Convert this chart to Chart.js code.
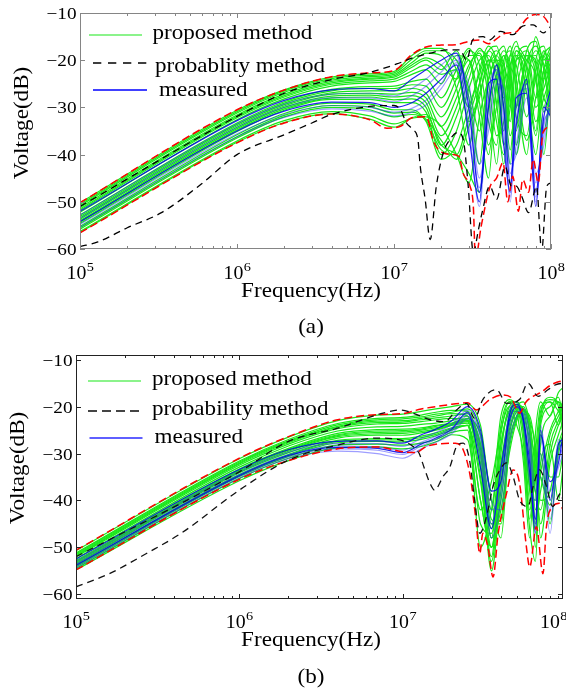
<!DOCTYPE html>
<html>
<head>
<meta charset="utf-8">
<script src="https://cdn.jsdelivr.net/npm/chart.js@4.4.1/dist/chart.umd.min.js"></script>
<style>
  body { margin: 0; background: #fff; }
  #wrapA { position: absolute; left: 0; top: 0; width: 566px; height: 340px; }
  #wrapB { position: absolute; left: 0; top: 340px; width: 566px; height: 349px; }
</style>
</head>
<body>
<div id="wrapA"><canvas id="chartA" width="566" height="340"></canvas></div>
<div id="wrapB"><canvas id="chartB" width="566" height="349"></canvas></div>
<script>
// ---------- data (a) ----------
const freqA = [1e5, 1e6, 2e6, 4e6, 7e6, 1e7, 1.3e7, 1.6e7, 2e7, 2.5e7, 3e7, 3.5e7, 4e7, 4.5e7, 5e7, 5.5e7, 6e7, 7e7, 8e7, 9e7, 1e8];

const greenA = [
  [-50.2, -30.6, -26.3, -23.6, -22.9, -22.4, -19, -17.5, -17.5, -22, -30, -22, -17, -20, -28, -19, -16, -25, -15, -20, -17],
  [-50.5, -30.9, -26.5, -23.9, -23.2, -22.7, -19.8, -18, -18, -20, -26, -35, -24, -19, -17, -23, -30, -18, -16, -24, -18],
  [-50.8, -31.2, -26.8, -24.2, -23.5, -23, -20.5, -18.5, -19, -26, -38, -25, -18, -17, -24, -33, -20, -17, -28, -22, -19],
  [-51.2, -31.6, -27.2, -24.5, -23.8, -23.3, -21, -19.5, -21, -24, -20, -29, -40, -26, -19, -25, -38, -21, -17, -21, -30],
  [-51.5, -31.9, -27.5, -24.8, -24, -23.6, -21.5, -20, -22, -18, -28, -42, -22, -18, -21, -30, -18, -22, -35, -18, -24],
  [-51.8, -32.2, -27.8, -25.1, -24.4, -24, -22.3, -21, -23, -22, -33, -28, -20, -23, -35, -22, -17, -20, -24, -40, -22],
  [-52.2, -32.6, -28.2, -25.5, -24.8, -24.5, -23, -22, -25, -19, -20, -32, -45, -24, -18, -22, -35, -19, -20, -30, -20],
  [-52.8, -33.3, -28.8, -26.2, -25.6, -25.5, -24.5, -24, -28, -22, -17.5, -24, -38, -30, -20, -18, -26, -40, -20, -17, -26],
  [-53.1, -33.6, -29.1, -26.5, -26, -26, -25.2, -25.5, -30, -24, -18, -21, -33, -38, -22, -17, -24, -37, -28, -19, -17],
  [-53.4, -33.9, -29.4, -26.9, -26.5, -26.5, -26, -27, -32, -26, -19, -19, -28, -42, -25, -19, -21, -32, -24, -18, -22],
  [-53.7, -34.2, -29.7, -27.2, -27, -27.2, -26.8, -28, -34, -28, -21, -18.5, -25, -36, -33, -21, -19, -27, -40, -24, -19],
  [-54, -34.5, -30, -27.6, -27.4, -27.8, -27.5, -29, -36, -30, -22, -17.5, -22, -33, -40, -24, -18, -24, -36, -22, -18],
  [-54.3, -34.8, -30.3, -28, -27.8, -28.4, -28.2, -30, -38, -32, -24, -18, -20, -29, -42, -26, -19, -21, -33, -28, -23],
  [-54.6, -35.1, -30.6, -28.3, -28.3, -29, -29, -31, -40, -35, -26, -20, -19, -25, -38, -30, -20, -19, -30, -26, -21],
  [-55.2, -35.8, -31.3, -29.1, -29.3, -30.5, -30.5, -33, -41, -38, -30, -23, -18, -21, -30, -42, -24, -18, -23, -35, -25],
  [-55.5, -36.2, -31.7, -29.6, -29.9, -31.2, -31, -32.8, -39, -40, -32, -25, -20, -20, -27, -39, -27, -19, -21, -31, -27],
  [-55.8, -36.5, -32, -30, -30.5, -32, -31.5, -32.5, -37, -41, -34, -27, -21, -19, -24, -36, -30, -20, -19, -28, -30],
  [-56.3, -37.1, -32.8, -30.9, -31.8, -33.5, -32.3, -32, -34, -40, -46, -32, -24, -20, -21, -28, -40, -24, -18, -22, -33],
  [-56.5, -37.4, -33.2, -31.3, -32.5, -34.2, -32.2, -31.5, -38, -40, -44, -48, -30, -23, -19, -23, -32, -36, -22, -19, -28]
];

const blueA = [
  [-52, -32.8, -28.5, -26.3, -26, -26.5, -24, -22, -20, -18.5, -30, -48, -30, -21, -30, -46, -34, -24, -48, -32, -26],
  [-52.8, -33.5, -29.3, -27.2, -27, -27.6, -26, -24, -21, -19, -34, -51, -27, -22, -35, -49, -30, -26, -50, -34, -30],
  [-53.5, -34.2, -30, -28, -28, -28.8, -27.5, -25.5, -22.5, -20, -28, -45, -33, -23, -27, -44, -38, -25, -46, -36, -28],
  [-54.2, -35, -30.8, -28.9, -29, -30, -29, -27, -24, -21, -36, -50, -25, -24, -38, -48, -28, -27, -51, -30, -32],
  [-54.8, -35.6, -31.5, -29.6, -30, -31, -30.2, -28.5, -25, -20.5, -31, -47, -29, -22, -32, -50, -33, -25, -44, -38, -27],
  [-55.4, -36.2, -32.1, -30.3, -30.8, -31.8, -31, -29.5, -26, -22, -25, -42, -35, -25, -26, -42, -40, -28, -49, -33, -31]
];

const redUpFreqA = [1e5, 1e6, 2e6, 4e6, 7e6, 1e7, 1.3e7, 1.6e7, 2e7, 2.5e7, 3e7, 3.5e7, 4e7, 4.5e7, 5e7, 5.5e7, 6e7, 7e7, 8e7, 9e7, 1e8];
const redUpA = [-50.2, -30.5, -26.3, -23.5, -22.7, -22.2, -18.8, -17.2, -16.8, -16.7, -16, -15.7, -16.5, -15.5, -14.4, -14.2, -14, -11.2, -10.3, -10.8, -13];

const redLowFreqA = [1e5, 1e6, 2e6, 4e6, 7e6, 9e6, 1.1e7, 1.3e7, 1.6e7, 1.8e7, 2.05e7, 2.4e7, 2.6e7, 2.75e7, 3.05e7, 3.2e7, 3.3e7, 3.6e7, 4.1e7, 4.5e7, 4.95e7, 5.3e7, 5.7e7, 6.2e7, 6.6e7, 7.2e7, 7.7e7, 8.3e7, 8.9e7, 1e8];
const redLowA = [-56.6, -37.5, -33.3, -31.4, -32.6, -34.4, -34, -32.2, -32, -37.5, -39.6, -40, -40.4, -43.9, -46.7, -50.9, -62, -55, -46.7, -45, -41.7, -50, -44.6, -52, -45.3, -48, -41, -46, -35.3, -34];

const blackUpFreqA = [1e5, 1e6, 2e6, 4e6, 7e6, 1.04e7, 1.32e7, 1.7e7, 2.17e7, 2.63e7, 2.9e7, 3.17e7, 3.69e7, 4.07e7, 4.74e7, 5.7e7, 6.6e7, 7.7e7, 8.9e7, 1e8];
const blackUpA = [-51, -31.9, -27, -24.1, -22.6, -20.8, -19.5, -18.5, -17.8, -17.8, -20, -15.7, -15, -15.7, -13.9, -14.6, -12.8, -12.5, -14.2, -12.8];

const blackLowFreqA = [1e5, 1.3e5, 2e5, 3.3e5, 5.9e5, 1e6, 2e6, 3e6, 4e6, 7e6, 1e7, 1.1e7, 1.2e7, 1.32e7, 1.42e7, 1.47e7, 1.58e7, 1.7e7, 1.86e7, 2.06e7, 2.27e7, 2.56e7, 2.76e7, 2.97e7, 3.2e7, 3.45e7, 3.64e7, 4.07e7, 4.5e7, 5.1e7, 5.6e7, 6e7, 6.5e7, 7.2e7, 8.1e7, 8.5e7, 8.7e7, 9.4e7, 1e8];
const blackLowA = [-59.5, -58.5, -55.5, -52.3, -46.3, -40, -35.8, -33.3, -31.5, -29.8, -29.6, -30.5, -33.3, -34.7, -36.8, -42.5, -49.5, -58, -46.7, -39.6, -36.8, -35.3, -36.8, -46.7, -60.8, -55.9, -52.3, -46.7, -49.5, -42.5, -46.7, -46.7, -48.8, -52.3, -46.7, -56.6, -60.8, -46.7, -46];

// ---------- data (b) ----------
const freqB = [1e5, 1e6, 2e6, 4e6, 7e6, 1e7, 1.3e7, 1.6e7, 2e7, 2.5e7, 3e7, 3.5e7, 4e7, 4.5e7, 5e7, 5.5e7, 6e7, 6.5e7, 7e7, 8e7, 9e7, 9.6e7];

const greenB = [
  [-50.7, -31.1, -26.5, -23, -21.8, -21.6, -21, -20.5, -20, -19.5, -24, -38, -22, -18.5, -21, -32, -48, -26, -19, -22, -17, -16],
  [-51.2, -31.6, -27, -23.6, -22.5, -22.3, -21.8, -21.2, -20.8, -21, -30, -46, -26, -19, -20, -28, -44, -30, -20, -19, -24, -18],
  [-51.4, -31.8, -27.3, -23.9, -22.8, -22.6, -22.2, -21.6, -21.2, -20.5, -26, -42, -24, -19, -19, -26, -42, -33, -21, -18.5, -19, -24],
  [-51.6, -32, -27.5, -24.2, -23.1, -23, -22.5, -22, -21.5, -22, -35, -52, -30, -20, -19, -24, -40, -36, -22, -18, -20, -26],
  [-51.8, -32.2, -27.7, -24.4, -23.4, -23.3, -22.8, -22.4, -22, -21.5, -29, -48, -28, -21, -19, -23, -37, -40, -23, -19, -21, -23],
  [-52, -32.5, -28, -24.7, -23.7, -23.6, -23.2, -22.8, -22.5, -23, -40, -50, -34, -22, -19.5, -22, -35, -45, -24, -20, -18, -22],
  [-52.4, -32.9, -28.4, -25.2, -24.3, -24.2, -23.8, -23.5, -23, -22, -32, -55, -38, -24, -20, -21, -30, -50, -28, -22, -19, -20],
  [-52.8, -33.3, -28.9, -25.7, -24.9, -24.8, -24.5, -24, -23.5, -22.5, -28, -45, -44, -26, -21, -20, -26, -42, -34, -25, -21, -19],
  [-53, -33.5, -29.1, -26, -25.2, -25.1, -24.8, -24.2, -23.6, -22.8, -33, -50, -40, -27, -22, -21, -25, -44, -38, -26, -22, -20],
  [-53.2, -33.7, -29.3, -26.2, -25.5, -25.4, -25, -24.5, -23.8, -23, -26, -40, -48, -28, -22, -20.5, -24, -38, -42, -28, -23, -21],
  [-53.4, -33.9, -29.5, -26.4, -25.8, -25.7, -25.3, -24.8, -23.9, -23.2, -28, -44, -45, -29, -22.5, -20.8, -23, -34, -45, -30, -24, -22],
  [-53.6, -34.1, -29.8, -26.7, -26.1, -26.1, -25.6, -25, -24, -23.5, -30, -48, -42, -30, -23, -21, -22, -30, -48, -32, -26, -23],
  [-53.9, -34.5, -30.2, -27.2, -26.8, -26.8, -26.3, -25.6, -24.5, -24, -36, -53, -36, -25, -20, -19, -23, -28, -40, -38, -28, -25],
  [-54, -34.7, -30.4, -27.4, -27.1, -27.1, -26.6, -25.9, -24.7, -24, -40, -50, -34, -23, -19.5, -20.5, -25, -31, -35, -41, -29, -26],
  [-54.2, -34.9, -30.6, -27.7, -27.4, -27.5, -27, -26.2, -25, -24, -45, -47, -32, -22, -19, -22, -27, -34, -30, -45, -30, -27],
  [-54.5, -35.3, -31, -28.2, -28, -28.2, -27.8, -27, -25.5, -25, -50, -42, -28, -21, -21, -25, -38, -46, -26, -35, -35, -30],
  [-54.8, -35.8, -31.5, -28.8, -28.6, -29, -28.5, -27.5, -26, -27, -42, -36, -25, -20, -24, -30, -46, -53, -32, -28, -40, -33]
];

const blueB = [
  [-52.5, -33.4, -29.2, -27.4, -27.3, -27.8, -26, -24.8, -23, -20, -25, -38, -36, -22, -19.5, -23, -34, -44, -25, -40, -28, -27],
  [-53, -33.9, -29.7, -27.9, -27.9, -28.5, -26.8, -25.5, -23.8, -20.8, -27, -42, -38, -24, -20, -22, -30, -46, -27, -44, -31, -29],
  [-53.5, -34.4, -30.2, -28.4, -28.6, -29.3, -27.6, -26.3, -24.5, -21.5, -29, -45, -34, -21, -19, -24, -36, -40, -24, -38, -33, -30],
  [-53.8, -34.7, -30.4, -28.7, -28.9, -29.8, -28, -26.7, -24.8, -21.2, -33, -46, -33, -23, -20, -23, -32, -47, -26, -36, -32, -26],
  [-54, -34.9, -30.7, -29, -29.3, -30.2, -28.4, -27, -25.2, -22, -31, -48, -40, -26, -21, -21.5, -28, -45, -30, -47, -29, -28],
  [-54.4, -35.3, -31.1, -29.5, -30, -31, -29, -27.6, -25.8, -22.6, -26, -40, -42, -28, -22, -20.5, -26, -38, -35, -42, -27, -32]
];

const redUpFreqB = [1e5, 1e6, 2e6, 4e6, 7e6, 1e7, 1.3e7, 1.6e7, 2e7, 2.24e7, 2.5e7, 2.83e7, 3.42e7, 4.12e7, 4.6e7, 5.2e7, 5.7e7, 6.3e7, 7e7, 8e7, 8.8e7, 9.6e7];
const redUpB = [-50.6, -31, -26.4, -22.8, -21.7, -21.5, -20.5, -20, -19.5, -19.3, -19.2, -20.7, -18.5, -17.5, -18, -21.4, -19, -17.8, -17, -15.5, -14.8, -14.5];

const redLowFreqB = [1e5, 1e6, 2e6, 4e6, 7e6, 1e7, 1.2e7, 1.4e7, 2.1e7, 2.35e7, 2.6e7, 2.8e7, 2.97e7, 3.1e7, 3.33e7, 3.58e7, 3.85e7, 4.33e7, 4.75e7, 5.2e7, 5.73e7, 6e7, 6.6e7, 7.24e7, 7.6e7, 8.3e7, 9.1e7, 9.6e7];
const redLowB = [-54.8, -35.5, -31.5, -29, -28.6, -29.6, -29.8, -28.5, -27.8, -29.2, -35, -43.5, -51.3, -47, -49.9, -56.3, -47, -38.5, -33.5, -36.3, -49.9, -54.2, -45.6, -55.6, -45.6, -41.3, -40.6, -42];

const blackUpFreqB = [1e5, 1e6, 2e6, 4e6, 7.6e6, 9.6e6, 1.16e7, 1.47e7, 1.81e7, 2.14e7, 2.46e7, 2.76e7, 3.1e7, 3.76e7, 4.33e7, 5.2e7, 5.86e7, 6.76e7, 7.76e7, 8.7e7, 9.6e7];
const blackUpB = [-52, -33.9, -27.4, -24.6, -21.4, -20.7, -21.4, -22.8, -23.2, -20.7, -19.3, -22.5, -18.5, -16.4, -19.3, -18.5, -15, -17.8, -16.4, -15.3, -15];

const blackLowFreqB = [1e5, 1.6e5, 2.7e5, 4.4e5, 1e6, 2e6, 4e6, 7e6, 9.6e6, 1.16e7, 1.26e7, 1.37e7, 1.47e7, 1.57e7, 1.77e7, 1.95e7, 2.14e7, 2.35e7, 2.57e7, 2.76e7, 2.97e7, 3.26e7, 3.58e7, 3.94e7, 4.33e7, 4.75e7, 5.2e7, 5.86e7, 6.3e7, 6.9e7, 7.6e7, 8.3e7, 9.3e7, 9.6e7];
const blackLowB = [-58.4, -55.6, -51.3, -47, -37.8, -31.4, -28.2, -26.7, -27.1, -28.5, -29.9, -33.5, -36.3, -37.8, -34.9, -32.8, -28.5, -27.8, -31.4, -39.9, -47, -43.5, -37, -33.5, -32, -34.9, -39.9, -41.3, -37, -33.5, -37, -41.3, -38.5, -40];

const yTickValues = [-10, -20, -30, -40, -50, -60];
const decades = [5, 6, 7, 8];

// ---------- styling ----------
const GREEN = 'rgb(24, 232, 24)';
const RED = 'rgb(255, 0, 0)';
const SERIF = '"Liberation Serif", "Times New Roman", serif';
const SX = 1.1; // glyphs in the figure are a bit wider than Times

const pts = (fr, vals) => fr.map((f, i) => ({ x: f, y: vals[i] }));

function buildDatasets(fg, green, blue, ru, rl, bu, bl, blackColor) {
  const out = [];
  out.push({ data: pts(bu[0], bu[1]), borderColor: blackColor, borderWidth: 1.3, borderDash: [7, 5] });
  out.push({ data: pts(bl[0], bl[1]), borderColor: blackColor, borderWidth: 1.3, borderDash: [7, 5] });
  out.push({ data: pts(ru[0], ru[1]), borderColor: RED, borderWidth: 1.5, borderDash: [8, 4] });
  out.push({ data: pts(rl[0], rl[1]), borderColor: RED, borderWidth: 1.5, borderDash: [8, 4] });
  blue.forEach((b, i) => {
    out.push({ data: pts(fg, b), borderColor: i % 3 === 0 ? 'rgba(0,0,235,0.85)' : 'rgba(40,40,255,0.45)', borderWidth: 1.2 });
  });
  green.forEach((g) => out.push({ data: pts(fg, g), borderColor: GREEN, borderWidth: 1.2 }));
  return out;
}

function stretchText(ctx, s, x, y, size, align, rot) {
  ctx.save();
  ctx.font = size + 'px ' + SERIF;
  ctx.fillStyle = '#000';
  ctx.textAlign = align || 'left';
  ctx.textBaseline = 'alphabetic';
  ctx.translate(x, y);
  if (rot) ctx.rotate(rot);
  ctx.scale(SX, 1);
  ctx.fillText(s, 0, 0);
  ctx.restore();
}

function textWidth(ctx, s, size) {
  ctx.save();
  ctx.font = size + 'px ' + SERIF;
  const w = ctx.measureText(s).width * SX;
  ctx.restore();
  return w;
}

const decoPlugin = {
  id: 'deco',
  afterDatasetsDraw(chart, args, o) {
    const { ctx, chartArea: a, scales: { x, y } } = chart;
    ctx.save();
    ctx.strokeStyle = o.frameColor;
    ctx.lineWidth = 1;
    const seg = (x1, y1, x2, y2) => { ctx.beginPath(); ctx.moveTo(x1, y1); ctx.lineTo(x2, y2); ctx.stroke(); };
    ctx.strokeRect(a.left + 0.5, a.top + 0.5, a.right - a.left - 1, a.bottom - a.top - 1);
    decades.forEach((e) => {
      for (let m = 1; m <= 9; m++) {
        const v = m * Math.pow(10, e);
        if (v < x.min || v > x.max) continue;
        const px = Math.round(x.getPixelForValue(v)) + 0.5;
        const len = m === 1 ? 5 : 3;
        seg(px, a.bottom, px, a.bottom - len);
        seg(px, a.top, px, a.top + len);
      }
    });
    yTickValues.forEach((v) => {
      const py = Math.round(y.getPixelForValue(v)) + 0.5;
      seg(a.left, py, a.left + 5, py);
      seg(a.right, py, a.right - 5, py);
    });
    ctx.restore();
  },
  afterDraw(chart, args, o) {
    const { ctx, chartArea: a, scales: { x, y } } = chart;
    // y tick labels
    yTickValues.forEach((v) => {
      const py = y.getPixelForValue(v);
      stretchText(ctx, '\u2212' + Math.abs(v), a.left - 3.5, py + 6, 17.5, 'right');
    });
    // x tick labels, 10^n
    decades.forEach((e) => {
      const w1 = textWidth(ctx, '10', 18);
      const w2 = textWidth(ctx, String(e), 13);
      let cx = x.getPixelForValue(Math.pow(10, e));
      cx = Math.min(cx, chart.width - (w1 + w2) / 2 + 1);
      const left = cx - (w1 + w2) / 2;
      stretchText(ctx, '10', left, o.xLabelBase, 18, 'left');
      stretchText(ctx, String(e), left + w1 + 0.5, o.xLabelBase - 8, 13, 'left');
    });
    // axis titles and caption
    stretchText(ctx, 'Frequency(Hz)', 311, o.xTitleBase, 21, 'center');
    stretchText(ctx, o.caption, 311, o.captionBase, 21, 'center');
    stretchText(ctx, 'Voltage(dB)', o.yTitleX, o.yTitleY, 21, 'center', -Math.PI / 2);
    // legend
    o.legend.forEach((it) => {
      ctx.save();
      ctx.strokeStyle = it.color;
      ctx.lineWidth = it.width;
      ctx.setLineDash(it.dash);
      ctx.beginPath();
      ctx.moveTo(it.x1, it.y);
      ctx.lineTo(it.x2, it.y);
      ctx.stroke();
      ctx.restore();
      stretchText(ctx, it.text, it.tx, it.ty, 21, 'left');
    });
  }
};

function makeChart(id, datasets, xmax, ymin, ymax, pad, deco) {
  return new Chart(document.getElementById(id), {
    type: 'line',
    data: { datasets },
    options: {
      responsive: false,
      animation: false,
      parsing: false,
      normalized: true,
      layout: { padding: pad },
      scales: {
        x: { type: 'logarithmic', min: 1e5, max: xmax, display: false },
        y: { type: 'linear', min: ymin, max: ymax, display: false }
      },
      elements: {
        point: { radius: 0 },
        line: { cubicInterpolationMode: 'monotone', borderJoinStyle: 'round', fill: false }
      },
      plugins: {
        legend: { display: false },
        tooltip: { enabled: false },
        deco
      }
    },
    plugins: [decoPlugin]
  });
}

makeChart('chartA',
  buildDatasets(freqA, greenA, blueA, [redUpFreqA, redUpA], [redLowFreqA, redLowA],
    [blackUpFreqA, blackUpA], [blackLowFreqA, blackLowA], '#000'),
  1e8, -60, -10,
  { left: 80, top: 13, right: 15, bottom: 91 },
  {
    frameColor: '#858585',
    xLabelBase: 278.5, xTitleBase: 296.5, caption: '(a)', captionBase: 332.5,
    yTitleX: 27.5, yTitleY: 123,
    legend: [
      { text: 'proposed method', color: GREEN, width: 1.2, dash: [], x1: 89, x2: 142, y: 35, tx: 152.5, ty: 39 },
      { text: 'probablity method', color: '#000', width: 1.3, dash: [8.3, 6.7], x1: 93, x2: 147, y: 63, tx: 155, ty: 71.5 },
      { text: 'measured', color: '#0000ff', width: 1.3, dash: [], x1: 93, x2: 147, y: 90, tx: 159, ty: 95.5 }
    ]
  });

makeChart('chartB',
  buildDatasets(freqB, greenB, blueB, [redUpFreqB, redUpB], [redLowFreqB, redLowB],
    [blackUpFreqB, blackUpB], [blackLowFreqB, blackLowB], '#111'),
  9.6e7, -61, -9,
  { left: 76, top: 15, right: 3, bottom: 90 },
  {
    frameColor: '#222',
    xLabelBase: 287.5, xTitleBase: 306, caption: '(b)', captionBase: 343,
    yTitleX: 24, yTitleY: 128,
    legend: [
      { text: 'proposed method', color: GREEN, width: 1.2, dash: [], x1: 88, x2: 141, y: 41, tx: 152, ty: 45 },
      { text: 'probability method', color: '#444', width: 2, dash: [9, 5], x1: 88, x2: 139, y: 71, tx: 152, ty: 75 },
      { text: 'measured', color: '#2a2aff', width: 1.3, dash: [], x1: 89.5, x2: 142.5, y: 98, tx: 154.5, ty: 103 }
    ]
  });
</script>
</body>
</html>
